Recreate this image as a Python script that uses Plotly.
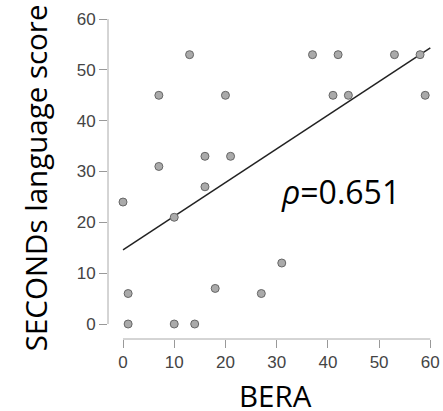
import plotly.graph_objects as go

# Data
bera = [0, 1, 1, 7, 7, 10, 10, 13, 14, 16, 16, 18, 20, 21, 27, 31, 37, 41, 42, 44, 53, 58, 59]
seconds_score = [24, 6, 0, 45, 31, 21, 0, 53, 0, 33, 27, 7, 45, 33, 6, 12, 53, 45, 53, 45, 53, 53, 45]

fit_x = [0, 60]
fit_intercept = 14.6
fit_slope = 0.662
fit_y = [fit_intercept + fit_slope * v for v in fit_x]

tick_vals = [0, 10, 20, 30, 40, 50, 60]
tick_text = ["0", "10", "20", "30", "40", "50", "60"]
x_title = "BERA"
y_title = "SECONDs language score"
rho_label = "<i>ρ</i>=0.651"

fig = go.Figure()
fig.add_trace(go.Scatter(
    x=fit_x, y=fit_y, mode="lines",
    line=dict(color="#222222", width=1.5), showlegend=False, hoverinfo="skip"))
fig.add_trace(go.Scatter(
    x=bera, y=seconds_score, mode="markers",
    marker=dict(size=8, color="#aaaaaa", line=dict(color="#666666", width=1)),
    showlegend=False))

axis_common = dict(
    showgrid=False, zeroline=False, showline=False, automargin=False,
    ticks="outside", ticklen=8, tickwidth=1, tickcolor="#999999",
    tickvals=tick_vals, ticktext=tick_text,
    tickfont=dict(family="Liberation Sans, Arial", size=17, color="#444444"),
)

title_font = dict(family="Open Sans", size=29.5, color="#000000")

fig.update_layout(
    width=443, height=411,
    margin=dict(l=108, r=5, t=14, b=72),
    paper_bgcolor="white", plot_bgcolor="white",
    xaxis=dict(range=[-2.93, 61.5], **axis_common),
    yaxis=dict(range=[-2.95, 61.0], **axis_common),
    shapes=[
        dict(type="line", xref="x", yref="paper", x0=0, x1=60, y0=0, y1=0,
             line=dict(color="#aaaaaa", width=1)),
        dict(type="line", xref="paper", yref="y", x0=0, x1=0, y0=0, y1=60,
             line=dict(color="#aaaaaa", width=1)),
    ],
    annotations=[
        dict(x=42.5, y=26.0, xref="x", yref="y", text=rho_label, showarrow=False,
             font=dict(family="Open Sans", size=32, color="#000000")),
        dict(x=0.509, y=-0.174, xref="paper", yref="paper", text=x_title,
             showarrow=False, font=title_font, xanchor="center", yanchor="middle"),
        dict(x=-0.221, y=0.495, xref="paper", yref="paper", text=y_title,
             showarrow=False, font=title_font, textangle=-90,
             xanchor="center", yanchor="middle"),
    ],
)

fig.write_html("out.html", config={"displayModeBar": False},
               post_script="document.body.style.margin='0';document.body.style.overflow='hidden';")
